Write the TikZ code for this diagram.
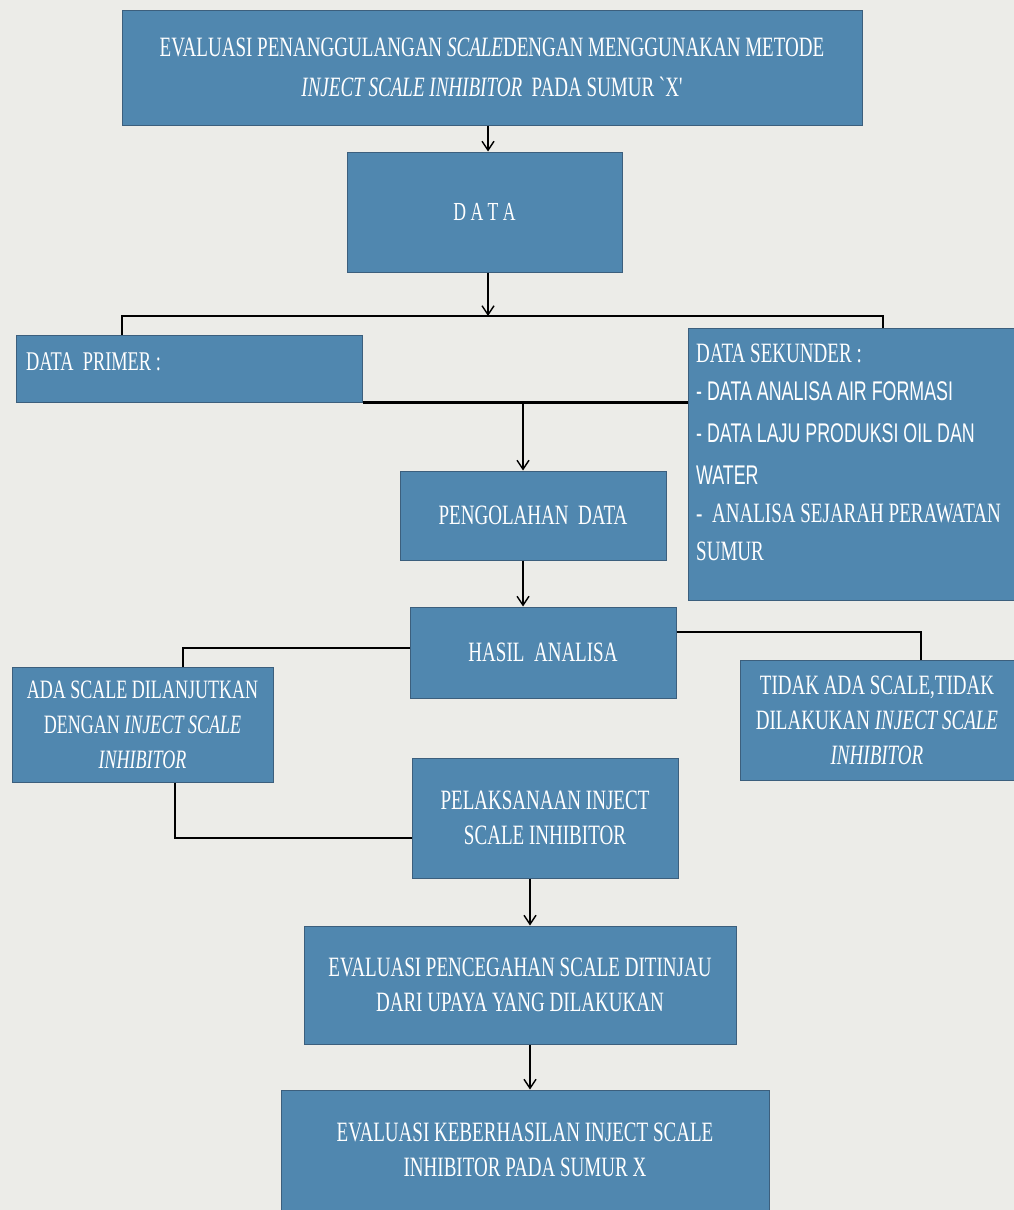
\documentclass[tikz,border=0pt]{standalone}
\usepackage{fontspec}
\setmainfont{Liberation Serif}
\newfontfamily\cserif[FakeStretch=0.68]{Liberation Serif}
\newfontfamily\csans[FakeStretch=0.66]{Liberation Sans}
\usetikzlibrary{arrows.meta}
\definecolor{boxblue}{RGB}{80,135,175}
\definecolor{boxedge}{RGB}{60,95,125}
\definecolor{paper}{RGB}{236,236,232}
\begin{document}
\begin{tikzpicture}[x=1pt,y=-1pt,
  box/.style={draw=boxedge, line width=1pt, fill=boxblue, text=white, inner sep=0pt, align=center,
    font=\cserif\fontsize{28}{35}\selectfont},
  boxtext/.style={text=white, inner sep=0pt, align=left},
  link/.style={line width=2.4pt, black},
  thinlink/.style={line width=1.8pt, black},
  arr/.style={line width=1.6pt, black, -{Straight Barb[length=9pt,width=12pt,line width=1.4pt]}}]
\fill[paper] (0,0) rectangle (1014,1210);
\useasboundingbox (0,0) rectangle (1014,1210);

% boxes
\node[box, minimum width=740pt, minimum height=115pt, font=\cserif\fontsize{28}{40}\selectfont] (title) at (492,67.5)
  {EVALUASI PENANGGULANGAN \textit{SCALE}DENGAN MENGGUNAKAN METODE\\\textit{INJECT SCALE INHIBITOR}\ \ PADA SUMUR `X'};
\node[box, minimum width=275pt, minimum height=120pt, font=\cserif\fontsize{26}{30}\selectfont] (data) at (484.5,212) {D\ A\ T\ A};
\node[box, minimum width=346pt, minimum height=67pt] (prim) at (189,368.5) {};
\node[boxtext, anchor=west, font=\cserif\fontsize{27}{30}\selectfont] (primtxt) at (26,362) {DATA\ \ PRIMER :};
\node[box, minimum width=326pt, minimum height=272pt] (sek) at (851,464) {};
\node[boxtext, anchor=north west, font=\fontsize{28}{38}\selectfont] (sektxt) at (696,344)
  {{\cserif DATA SEKUNDER :}\\
   {\csans\fontsize{27}{38}\selectfont - DATA ANALISA AIR FORMASI}\\[4pt]
   {\csans\fontsize{27}{38}\selectfont - DATA LAJU PRODUKSI OIL DAN}\\[4pt]
   {\csans\fontsize{27}{38}\selectfont WATER}\\
   {\cserif -\ \ ANALISA SEJARAH PERAWATAN}\\
   {\cserif SUMUR}};
\node[box, minimum width=266pt, minimum height=89pt] (peng) at (533,515.5) {PENGOLAHAN\ \ DATA};
\node[box, minimum width=266pt, minimum height=91pt] (hasil) at (543,652.5) {HASIL\ \ ANALISA};
\node[box, minimum width=261pt, minimum height=115pt, font=\cserif\fontsize{26.5}{35}\selectfont] (ada) at (142.5,724.5)
  {ADA SCALE DILANJUTKAN\\DENGAN \textit{INJECT SCALE}\\\textit{INHIBITOR}};
\node[box, minimum width=274pt, minimum height=120pt] (tidak) at (877,720)
  {TIDAK ADA SCALE,TIDAK\\DILAKUKAN \textit{INJECT SCALE}\\\textit{INHIBITOR}};
\node[box, minimum width=266pt, minimum height=120pt] (pel) at (545,818)
  {PELAKSANAAN INJECT\\SCALE INHIBITOR};
\node[box, minimum width=432pt, minimum height=118pt] (ev1) at (520,985)
  {EVALUASI PENCEGAHAN SCALE DITINJAU\\DARI UPAYA YANG DILAKUKAN};
\node[box, minimum width=488pt, minimum height=120pt] (ev2) at (525,1150)
  {EVALUASI KEBERHASILAN INJECT SCALE\\INHIBITOR PADA SUMUR X};

% connectors
\coordinate (xa) at (488,0);
\draw[arr] (title.south -| xa) -- (data.north -| xa);
\coordinate (j1) at (488,316);
\coordinate (pl) at (122,316);
\coordinate (pr) at (883,316);
\draw[arr] (data.south -| j1) -- (j1);
\draw[link] (prim.north -| pl) -- (pl) -- (pr) -- (sek.north -| pr);
\coordinate (j2) at (523,402);
\draw[link] (prim.south east) -- (sek.west |- prim.south east);
\draw[arr] (j2) -- (peng.north -| j2);
\draw[arr] (peng.south -| j2) -- (hasil.north -| j2);
\coordinate (hl) at (183,648);
\draw[link] (hasil.west |- hl) -- (hl) -- (ada.north -| hl);
\coordinate (hr) at (921,632);
\draw[link] (hasil.east |- hr) -- (hr) -- (tidak.north -| hr);
\coordinate (pb) at (175,838);
\draw[thinlink] (ada.south -| pb) -- (pb) -- (pel.west |- pb);
\coordinate (xb) at (530,0);
\draw[arr] (pel.south -| xb) -- (ev1.north -| xb);
\draw[arr] (ev1.south -| xb) -- (ev2.north -| xb);
\end{tikzpicture}
\end{document}
